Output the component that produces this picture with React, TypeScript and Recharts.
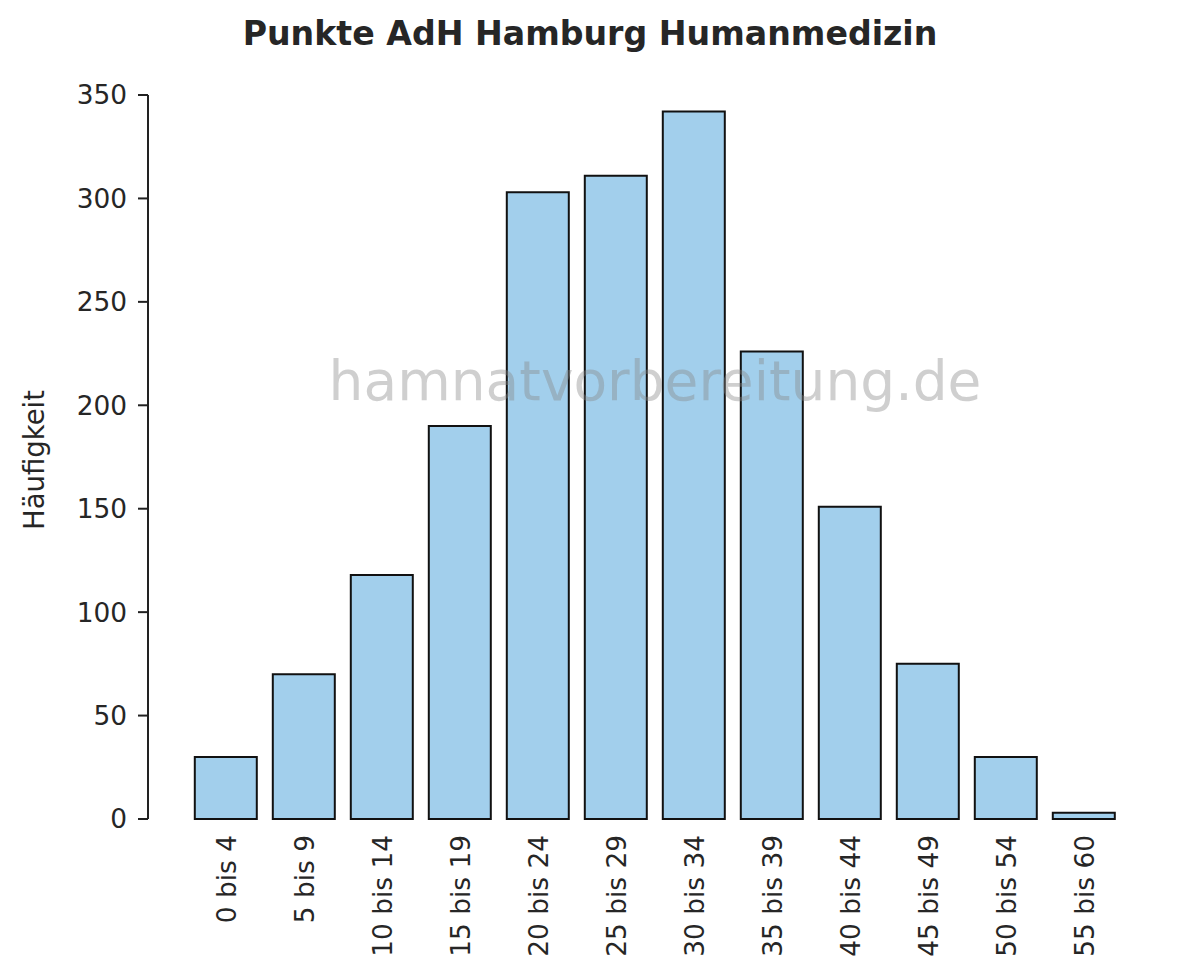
import React from "react";
import { BarChart, Bar, XAxis, YAxis } from "recharts";

const categories = [
  "0 bis 4", "5 bis 9", "10 bis 14", "15 bis 19", "20 bis 24", "25 bis 29",
  "30 bis 34", "35 bis 39", "40 bis 44", "45 bis 49", "50 bis 54", "55 bis 60",
];
const counts = [30, 70, 118, 190, 303, 311, 342, 226, 151, 75, 30, 3];
const yTicks = [0, 50, 100, 150, 200, 250, 300, 350];

const title = "Punkte AdH Hamburg Humanmedizin";
const yLabel = "Häufigkeit";
const watermark = "hamnatvorbereitung.de";

const data = categories.map((c, i) => ({ name: c, value: counts[i] }));

const FONT = "'DejaVu Sans', sans-serif";
const TEXT = "#262626";

const XTick = (props: any) => {
  const { x, y, payload } = props;
  return (
    <text
      x={x}
      y={y}
      transform={`rotate(-90, ${x}, ${y})`}
      textAnchor="end"
      dominantBaseline="central"
      fontFamily={FONT}
      fontSize={26.4}
      fill={TEXT}
    >
      {payload.value}
    </text>
  );
};

export default function App() {
  return (
    <div style={{ position: "absolute", left: 0, top: 0, width: 1180, height: 980, background: "#fff" }}>
      <BarChart
        width={1180}
        height={980}
        data={data}
        margin={{ top: 95, right: 18, bottom: 0, left: 0 }}
        barCategoryGap="10%"
      >
        <XAxis
          dataKey="name"
          axisLine={false}
          tickLine={false}
          tickSize={0}
          tickMargin={16}
          height={161}
          padding={{ left: 39, right: 39 }}
          interval={0}
          tick={<XTick />}
        />
        <YAxis
          width={148}
          domain={[0, 350]}
          ticks={yTicks}
          axisLine={{ stroke: "#222", strokeWidth: 2 }}
          tickLine={{ stroke: "#222", strokeWidth: 2 }}
          tickSize={10}
          tickMargin={11}
          tick={{ fontFamily: FONT, fontSize: 26.4, fill: TEXT }}
          interval={0}
        />
        <Bar
          dataKey="value"
          fill="#a2cfec"
          stroke="#111"
          strokeWidth={2}
          isAnimationActive={false}
        />
        <text
          x={590}
          y={45}
          textAnchor="middle"
          fontFamily={FONT}
          fontWeight="bold"
          fontSize={33.2}
          fill={TEXT}
        >
          {title}
        </text>
        <text
          x={34}
          y={460}
          transform="rotate(-90, 34, 460)"
          textAnchor="middle"
          dominantBaseline="central"
          fontFamily={FONT}
          fontSize={27.5}
          fill={TEXT}
        >
          {yLabel}
        </text>
      </BarChart>
      <svg
        width={1180}
        height={980}
        style={{ position: "absolute", left: 0, top: 0, pointerEvents: "none" }}
      >
        <text
          x={655}
          y={400}
          textAnchor="middle"
          fontFamily={FONT}
          fontSize={55}
          fill="#888"
          fillOpacity={0.4}
        >
          {watermark}
        </text>
      </svg>
    </div>
  );
}
